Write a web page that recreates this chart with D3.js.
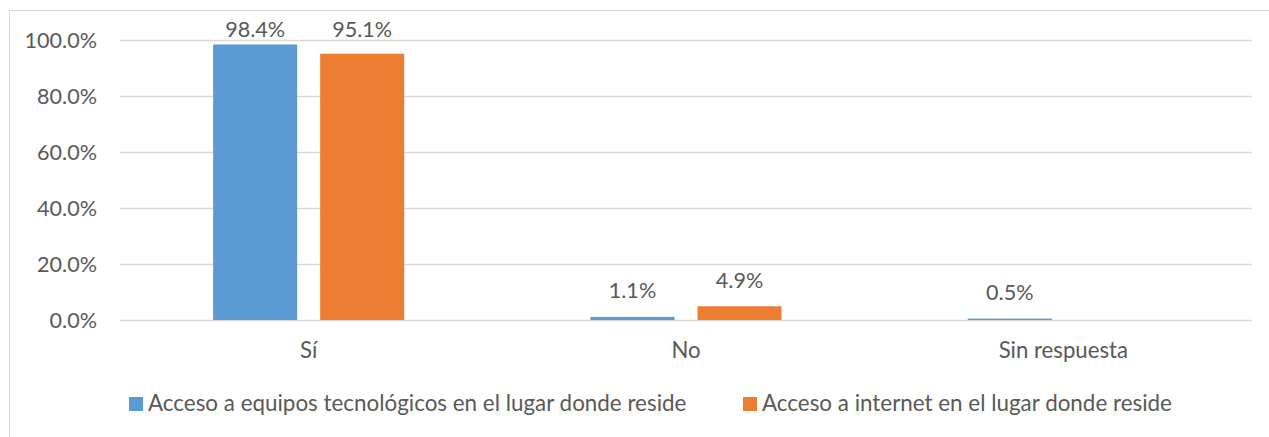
<!DOCTYPE html>
<html>
<head>
<meta charset="utf-8">
<script src="https://cdn.jsdelivr.net/npm/d3@7"></script>
<style>
  html, body { margin: 0; padding: 0; background: #fff; }
  svg { display: block; }
  text { font-family: Lato, "Open Sans", sans-serif; fill: #595959; }
</style>
</head>
<body>
<svg id="chart" width="1269" height="437"></svg>
<script>
const categories = ["Sí", "No", "Sin respuesta"];
const seriesNames = [
  "Acceso a equipos tecnológicos en el lugar donde reside",
  "Acceso a internet en el lugar donde reside"
];
const equiposValues = [98.4, 1.1, 0.5];
const internetValues = [95.1, 4.9, null];
const yTicks = [0, 20, 40, 60, 80, 100];
const seriesColors = ["#5b9bd5", "#ed7d31"];

const seriesValues = [equiposValues, internetValues];

const svg = d3.select("#chart");
const plot = { left: 120, right: 1252, top: 40, bottom: 320 };

// chart border
svg.append("rect")
  .attr("x", 9.5).attr("y", 10.5)
  .attr("width", 1300).attr("height", 500)
  .attr("fill", "none").attr("stroke", "#d9d9d9").attr("stroke-width", 1);

const x0 = d3.scaleBand().domain(categories).range([plot.left, plot.right]).padding(0);
const x1 = d3.scaleBand().domain(d3.range(seriesNames.length))
  .range([0, x0.bandwidth()]).paddingInner(0.215).paddingOuter(0.87);
const y = d3.scaleLinear().domain([0, 100]).range([plot.bottom, plot.top]);

// gridlines
svg.append("g").selectAll("line").data(yTicks).join("line")
  .attr("x1", plot.left).attr("x2", plot.right)
  .attr("y1", d => Math.round(y(d)) + 0.5).attr("y2", d => Math.round(y(d)) + 0.5)
  .attr("stroke", "#d9d9d9").attr("stroke-width", 1.3);

// y tick labels
svg.append("g").selectAll("text").data(yTicks).join("text")
  .attr("x", 97).attr("y", d => y(d) + 7.5)
  .attr("text-anchor", "end")
  .style("font-size", "21.6px")
  .text(d => d.toFixed(1) + "%");

// bars
const barData = [];
seriesValues.forEach((vals, si) => {
  vals.forEach((v, ci) => {
    if (v !== null) barData.push({ si, cat: categories[ci], v });
  });
});

svg.append("g").selectAll("rect").data(barData).join("rect")
  .attr("x", d => x0(d.cat) + x1(d.si))
  .attr("width", x1.bandwidth())
  .attr("y", d => y(d.v))
  .attr("height", d => y(0) - y(d.v))
  .attr("fill", d => seriesColors[d.si]);

// data labels
svg.append("g").selectAll("text").data(barData).join("text")
  .attr("x", d => x0(d.cat) + x1(d.si) + x1.bandwidth() / 2)
  .attr("y", d => Math.max(y(d.v) - 18.5, y(100) - 2.7))
  .attr("text-anchor", "middle")
  .style("font-size", "21.6px")
  .text(d => d.v.toFixed(1) + "%");

// category labels
svg.append("g").selectAll("text").data(categories).join("text")
  .attr("x", d => x0(d) + x0.bandwidth() / 2)
  .attr("y", 358)
  .attr("text-anchor", "middle")
  .style("font-size", "22.2px")
  .text(d => d);

// legend
const legendX = [129, 743];
const lg = svg.append("g").selectAll("g").data(seriesNames).join("g")
  .attr("transform", (d, i) => `translate(${legendX[i]},0)`);
lg.append("rect").attr("x", 0).attr("y", 397).attr("width", 14).attr("height", 14)
  .attr("fill", (d, i) => seriesColors[i]);
lg.append("text").attr("x", 19).attr("y", 411)
  .style("font-size", "22.4px")
  .text(d => d);
</script>
</body>
</html>
